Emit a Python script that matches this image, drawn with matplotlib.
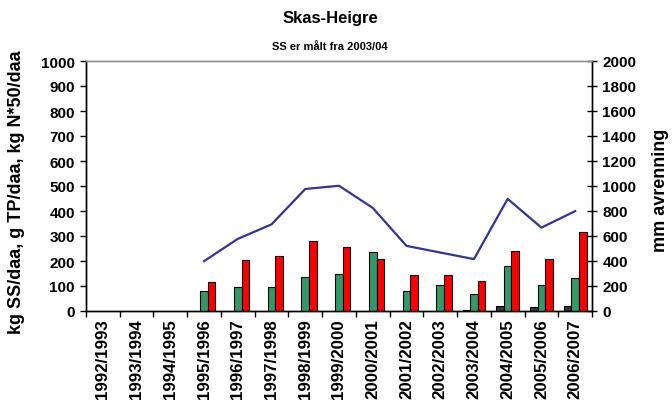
import matplotlib
matplotlib.use("Agg")
import matplotlib.pyplot as plt
import numpy as np

plt.rcParams['font.family'] = ['Liberation Sans', 'DejaVu Sans']
plt.rcParams['font.weight'] = 'bold'

seasons = ["1992/1993", "1993/1994", "1994/1995", "1995/1996", "1996/1997",
           "1997/1998", "1998/1999", "1999/2000", "2000/2001", "2001/2002",
           "2002/2003", "2003/2004", "2004/2005", "2005/2006", "2006/2007"]
ss_kg = [np.nan, np.nan, np.nan, np.nan, np.nan, np.nan, np.nan, np.nan,
         np.nan, np.nan, np.nan, 3, 20, 18, 22]
tp_g = [np.nan, np.nan, np.nan, 80, 96, 96, 135, 147, 238, 80, 104, 70, 179, 106, 134]
n50_kg = [np.nan, np.nan, np.nan, 116, 206, 222, 280, 255, 208, 146, 146, 119, 239, 209, 317]
runoff_mm = [np.nan, np.nan, np.nan, 399, 577, 693, 976, 1002, 825, 521, 468, 415, 897, 667, 799]

x = np.arange(len(seasons))
w = 0.225

fig = plt.figure(figsize=(6.72, 4.10), dpi=100)
ax = fig.add_axes([86 / 672, 1 - 312 / 410, 506 / 672, 250 / 410])
ax2 = ax.twinx()

bar_kw = dict(width=w, edgecolor='black', linewidth=0.8, zorder=3)
ax.bar(x - w, ss_kg, color='#333333', **bar_kw)
ax.bar(x, tp_g, color='#339966', **bar_kw)
ax.bar(x + w, n50_kg, color='#FF0000', **bar_kw)

ax2.plot(x, runoff_mm, color='#333399', linewidth=1.6, zorder=4)

ax.set_xlim(-0.5, len(seasons) - 0.5)
ax.set_ylim(0, 1000)
ax2.set_ylim(0, 2000)
ax.set_yticks(np.arange(0, 1001, 100))
ax2.set_yticks(np.arange(0, 2001, 200))

# category labels centred, tick marks on category borders
ax.set_xticks(x)
ax.set_xticklabels(seasons, rotation=90, fontsize=12.2, fontweight='bold')
ax.tick_params(axis='x', which='major', length=0, pad=5)
ax.set_xticks(np.arange(-0.5, len(seasons), 1.0), minor=True)
ax.tick_params(axis='x', which='minor', length=4, direction='out', width=1)

ax.tick_params(axis='y', labelsize=11, length=4, width=1, direction='out', pad=4)
ax2.tick_params(axis='y', labelsize=11, length=7, width=1, direction='inout', pad=4)
for lab in ax.get_yticklabels() + ax2.get_yticklabels():
    lab.set_fontweight('bold')

for a in (ax, ax2):
    for s in a.spines.values():
        s.set_linewidth(1)
    a.spines['top'].set_color('#909090')

ax.set_ylabel("kg SS/daa, g TP/daa, kg N*50/daa", fontsize=13, fontweight='bold')
ax.yaxis.set_label_coords(-0.121, 0.478)
ax2.set_ylabel("mm avrenning", fontsize=13, fontweight='bold')
ax2.yaxis.set_label_coords(1.119, 0.486)

fig.text(0.491, 0.955, "Skas-Heigre", ha='center', va='center', fontsize=12, fontweight='bold')
fig.text(0.491, 0.885, "SS er målt fra 2003/04", ha='center', va='center', fontsize=8, fontweight='bold')

fig.savefig("out.png", dpi=100)
